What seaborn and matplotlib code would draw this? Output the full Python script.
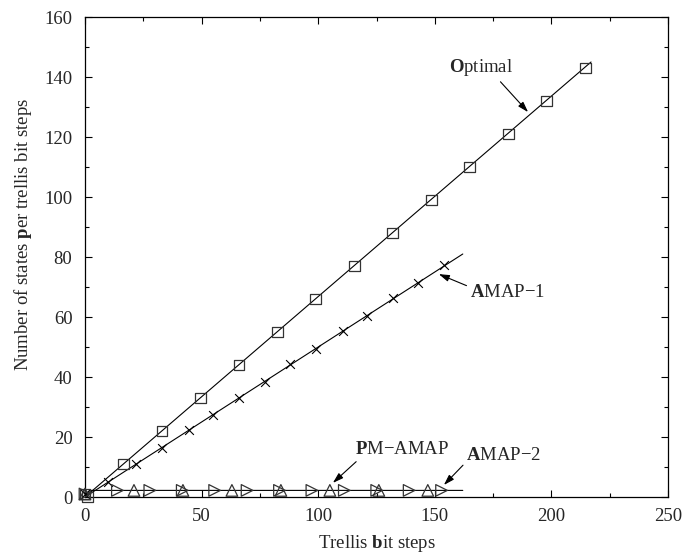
import matplotlib
matplotlib.use("Agg")
import matplotlib.pyplot as plt
import seaborn as sns
import pandas as pd

# ---- data ----
opt_x = [0, 1, 16.5, 33, 49.5, 66, 82.5, 99, 115.5, 132, 148.5, 165, 181.5, 198, 214.5]
opt_y = [1, 0, 11, 22, 33, 44, 55, 66, 77, 88, 99, 110, 121, 132, 143]
opt_line_x = [0, 217]
opt_line_y = [0, 145]

amap1_x = [0, 10, 22, 33, 44.5, 55, 66, 77, 88, 99, 110.5, 121, 132, 143, 154]
amap1_y = [1, 5, 11, 16.5, 22.5, 27.5, 33, 38.5, 44.5, 49.5, 55.5, 60.5, 66.5, 71.5, 77.5]
amap1_line_x = [0, 162]
amap1_line_y = [0, 81]

pm_x = [0, 21, 42, 63, 84, 105, 126, 147]
pm_y = [1, 2.2, 2.2, 2.2, 2.2, 2.2, 2.2, 2.2]

amap2_x = [0, 13.9, 27.8, 41.7, 55.6, 69.5, 83.4, 97.3, 111.2, 125.1, 139, 152.9]
amap2_y = [1, 2.2, 2.2, 2.2, 2.2, 2.2, 2.2, 2.2, 2.2, 2.2, 2.2, 2.2]
flat_line_x = [0, 2, 162]
flat_line_y = [0, 2.2, 2.2]

x_ticks = [0, 50, 100, 150, 200, 250]
y_ticks = [0, 20, 40, 60, 80, 100, 120, 140, 160]

sns.set_style("ticks")
plt.rcParams['font.family'] = ['Liberation Serif', 'DejaVu Serif']
plt.rcParams['mathtext.fontset'] = 'custom'
plt.rcParams['mathtext.rm'] = 'Liberation Serif'
plt.rcParams['mathtext.bf'] = 'Liberation Serif:bold'
plt.rcParams['mathtext.it'] = 'Liberation Serif:italic'

fig = plt.figure(figsize=(6.85, 5.54), dpi=100)
ax = fig.add_axes([85/685, 1-497/554, (668-85)/685, (497-17)/554])

lw = 0.8
for lx, ly in [(opt_line_x, opt_line_y), (amap1_line_x, amap1_line_y), (flat_line_x, flat_line_y)]:
    sns.lineplot(x=lx, y=ly, ax=ax, color='black', linewidth=lw, sort=False,
                 estimator=None, legend=False)

mk_col = '#333333'
sns.scatterplot(x=opt_x, y=opt_y, ax=ax, marker='s', s=60, facecolor='none',
                edgecolor=mk_col, linewidth=0.9, clip_on=False, zorder=3)
sns.scatterplot(x=amap1_x, y=amap1_y, ax=ax, marker='x', s=40, color='black',
                linewidth=0.8, clip_on=False, zorder=3)
sns.scatterplot(x=pm_x, y=pm_y, ax=ax, marker='^', s=70, facecolor='none',
                edgecolor=mk_col, linewidth=0.9, clip_on=False, zorder=3)
sns.scatterplot(x=amap2_x, y=amap2_y, ax=ax, marker='>', s=70, facecolor='none',
                edgecolor=mk_col, linewidth=0.9, clip_on=False, zorder=3)

ax.set_xlim(0, 250)
ax.set_ylim(0, 160)
ax.set_xticks(x_ticks)
ax.set_yticks(y_ticks)
ax.set_xticks([25, 75, 125, 175, 225], minor=True)
ax.set_yticks([10, 30, 50, 70, 90, 110, 130, 150], minor=True)
ax.tick_params(which='both', direction='in', top=True, right=True, labelsize=13.5,
               color='black', width=0.8)
ax.tick_params(which='major', length=5)
ax.tick_params(which='minor', length=3)
ax.tick_params(axis='x', pad=8)
ax.tick_params(axis='y', pad=9)
for sp in ax.spines.values():
    sp.set_visible(True)
    sp.set_color('black')
    sp.set_linewidth(0.9)

ax.set_xlabel(r"Trellis $\mathbf{b}$it steps", fontsize=13.5, labelpad=6)
ax.set_ylabel(r"Number of states $\mathbf{p}$er trellis bit steps", fontsize=13.5)
ax.yaxis.set_label_coords(-0.087, 0.546)

arrow = dict(arrowstyle='-|>,head_length=0.7,head_width=0.22', color='black', lw=0.8,
             mutation_scale=9, shrinkA=0, shrinkB=0)
fs = 13.5
ax.annotate(r"$\mathbf{O}$ptimal", xy=(190, 128.3), xytext=(170, 143), fontsize=fs,
            ha='center', va='center', arrowprops=dict(arrow, relpos=(0.75, 0)))
ax.annotate(r"$\mathbf{A}$MAP$-$1", xy=(151.7, 74.3), xytext=(165, 68.3), fontsize=fs,
            ha='left', va='center', arrowprops=dict(arrow, relpos=(0, 0.8)))
ax.annotate(r"$\mathbf{P}$M$-$AMAP", xy=(106.3, 4.7), xytext=(136, 15.7), fontsize=fs,
            ha='center', va='center', arrowprops=dict(arrow, relpos=(0.05, 0)))
ax.annotate(r"$\mathbf{A}$MAP$-$2", xy=(153.9, 4), xytext=(163.5, 14), fontsize=fs,
            ha='left', va='center', arrowprops=dict(arrow, relpos=(0, 0.1)))

fig.savefig("out.png", dpi=100)
